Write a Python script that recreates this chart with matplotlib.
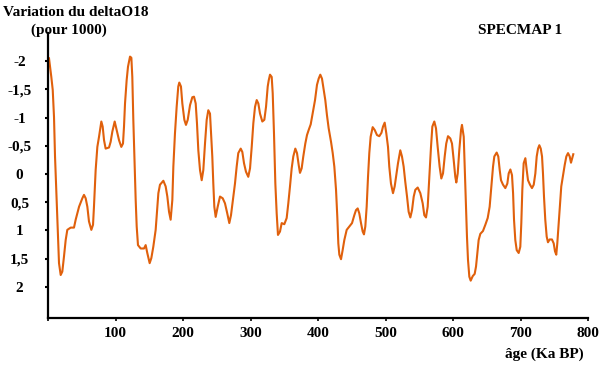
import matplotlib
matplotlib.use("Agg")
import matplotlib.pyplot as plt

# age in Ka BP
age = [1.5, 4.9, 7, 8.9, 10.4, 12.8, 14.8, 16.3, 18.8, 21.2, 23.7, 26.2, 28.6, 33.6, 38.5,
       41, 46, 50.9, 53.3, 55.8, 58.3, 60.7, 64.2, 66.7, 68.1, 70.6, 73.1, 75.6, 79, 81,
       83, 85.4, 90.4, 92.8, 95.3, 98.8, 101.7, 105.2, 108.6, 111.1, 112.6, 114.1, 116.5,
       118.5, 121.5, 123.5, 124.9, 126.4, 128.4, 129.9, 131.4, 133.3, 137.3, 142.2, 144.7,
       147.1, 150.6, 153.1, 156, 159.5, 163.5, 165.9, 170.9, 174.3, 176.8, 179.3, 181.7,
       184.2, 185.7, 188.1, 190.6, 193, 194.5, 197, 199, 202, 204.4, 207, 210.4, 213.8,
       216.3, 218.8, 220.7, 222.7, 225.2, 227.7, 230.1, 232.6, 235.1, 237.5, 240, 241.5,
       243.4, 244.9, 246.4, 248.4, 251.4, 254.8, 258.8, 262.2, 265.6, 268.6, 271.1, 274.5,
       277, 279.5, 281.9, 285.5, 287.9, 290.4, 293.3, 296.7, 299.3, 301.8, 304.2, 306.7,
       309.2, 311.6, 314.1, 317.5, 320.5, 323, 325.5, 327, 328.9, 331.4, 332.9, 334.8,
       336.8, 338.8, 340.7, 343.7, 346.2, 350.1, 353.6, 356, 358.5, 361, 363.4, 366.4,
       368.9, 371.4, 373.3, 375.8, 378.2, 381.2, 383.7, 386.2, 389.2, 392.1, 395.6, 398.5,
       401, 403.4, 405.9, 408.4, 410.8, 413.3, 415.8, 419.3, 421.8, 424.2, 426.7, 428.6,
       430.1, 431.6, 434.1, 436.5, 439, 442.5, 446.4, 450.4, 453.8, 456.3, 458.8, 461.2,
       463.7, 466.2, 468.1, 470.1, 472.1, 474.1, 476, 478, 481, 484, 487.4, 490.8, 494,
       496.3, 498.8, 501.2, 503.7, 505.6, 508.1, 511.1, 513.6, 516, 518.5, 521.9, 524.4,
       526.9, 529.3, 531.9, 534.3, 536.8, 539.3, 541.8, 544.2, 547.7, 551.6, 555.1, 557.5,
       560, 562.5, 564.9, 567.4, 569.4, 572.3, 574.8, 577.3, 580.2, 582.7, 585.2, 587.7,
       590, 592.6, 596, 598.5, 601, 603.4, 604.9, 607, 609.3, 611.9, 613.3, 615.9, 617.3,
       618.8, 620.7, 622.2, 624.2, 626.2, 629.2, 632.1, 634.1, 635.6, 638, 640.5, 644.4,
       647.9, 651.4, 654.3, 656.8, 659.3, 661.2, 664.7, 667.1, 669.2, 671.1, 674.1, 677.5,
       680.5, 682.5, 685, 687.4, 689, 690.4, 692.3, 694.4, 697.3, 699.7, 701.2, 702.7,
       704.7, 707.2, 709.2, 711.1, 714.1, 717, 719.6, 722, 724, 726, 727.9, 730, 731.9,
       733.3, 734.8, 736.7, 738.8, 740.7, 743.2, 746.6, 749.2, 751.1, 753, 754.5, 756.6,
       758.5, 760.4, 763, 765.5, 767.9, 770.4, 772.9, 774.8, 776.7, 778.2]

# delta O18 variation (per mil)
d18o = [-2.05, -1.72, -1.49, -1.01, -0.31, 0.46, 1.11, 1.58, 1.79, 1.73, 1.46, 1.17, 0.99, 0.95, 0.95,
        0.81, 0.58, 0.43, 0.37, 0.43, 0.58, 0.84, 0.99, 0.9, 0.58, -0.07, -0.48, -0.66, -0.93, -0.84,
        -0.6, -0.45, -0.47, -0.57, -0.75, -0.93, -0.78, -0.6, -0.48, -0.54, -0.84, -1.25, -1.66,
        -1.9, -2.08, -2.06, -1.72, -0.96, -0.13, 0.46, 0.93, 1.26, 1.32, 1.32, 1.26,
        1.4, 1.58, 1.49, 1.29, 0.99, 0.34, 0.19, 0.12, 0.22, 0.4, 0.67, 0.81,
        0.46, -0.13, -0.72, -1.19, -1.55, -1.62, -1.55, -1.25, -0.96, -0.87, -0.96, -1.22, -1.36,
        -1.37, -1.25, -0.9, -0.42, -0.07, 0.11, -0.07, -0.54, -0.96, -1.13, -1.07, -0.72,
        -0.31, 0.17, 0.58, 0.76, 0.58, 0.4, 0.43, 0.52, 0.7, 0.87, 0.73, 0.4,
        0.17, -0.13, -0.37, -0.45, -0.39, -0.19, -0.04, 0.05, -0.1, -0.48, -0.9, -1.19,
        -1.31, -1.25, -1.07, -0.93, -0.96, -1.19, -1.55, -1.66, -1.76, -1.72, -1.43, -0.72,
        0.17, 0.7, 1.08, 1.02, 0.87, 0.89, 0.78, 0.52, 0.22, -0.1, -0.31, -0.45,
        -0.37, -0.16, -0.02, -0.1, -0.31, -0.54, -0.69, -0.78, -0.88, -1.07, -1.31, -1.58,
        -1.69, -1.76, -1.69, -1.49, -1.31, -1.04, -0.81, -0.57, -0.37, -0.13, 0.28, 0.76,
        1.23, 1.43, 1.51, 1.35, 1.17, 0.99, 0.93, 0.87, 0.73, 0.64, 0.61, 0.7,
        0.87, 1.02, 1.07, 0.93, 0.58, 0.05, -0.37, -0.66, -0.83, -0.78, -0.69, -0.67, -0.73,
        -0.84, -0.91, -0.72, -0.48, -0.13, 0.17, 0.34, 0.22, 0.02, -0.19, -0.42, -0.31,
        -0.13, 0.14, 0.4, 0.67, 0.77, 0.64, 0.4, 0.28, 0.24, 0.34, 0.52, 0.73,
        0.77, 0.58, 0.05, -0.48, -0.84, -0.93, -0.81, -0.48, -0.13, 0.08, -0.01, -0.31,
        -0.54, -0.67, -0.63, -0.54, -0.25, 0.05, 0.15, -0.01, -0.42, -0.78, -0.87, -0.66, -0.13,
        0.46, 1.11, 1.52, 1.82, 1.89, 1.81, 1.77, 1.64, 1.46, 1.17, 1.06, 1.01,
        0.9, 0.78, 0.58, 0.22, -0.13, -0.31, -0.38, -0.31, -0.07, 0.11, 0.19, 0.25,
        0.17, -0.01, -0.08, 0.02, 0.34, 0.81, 1.17, 1.35, 1.4, 1.29, 0.87, 0.28,
        -0.19, -0.28, -0.07, 0.11, 0.19, 0.25, 0.19, -0.01, -0.31, -0.45, -0.51, -0.45, -0.31,
        -0.01, 0.4, 0.81, 1.11, 1.21, 1.16, 1.16, 1.23, 1.37, 1.43, 1.23, 0.87,
        0.52, 0.22, 0.02, -0.16, -0.31, -0.37, -0.31, -0.2, -0.28, -0.35]

y_ticks = [-2, -1.5, -1, -0.5, 0, 0.5, 1, 1.5, 2]
y_labels = ["-2", "-1,5", "-1", "-0,5", "0", "0,5", "1", "1,5", "2"]
x_ticks = [0, 100, 200, 300, 400, 500, 600, 700, 800]
x_labels = ["", "100", "200", "300", "400", "500", "600", "700", "800"]

plt.rcParams["font.family"] = ["Liberation Serif", "DejaVu Serif"]
plt.rcParams["font.weight"] = "bold"
plt.rcParams["font.size"] = 11

fig = plt.figure(figsize=(6, 3.74), dpi=100)
ax = fig.add_axes([0.08, 0.15, 0.90, 0.762])

ax.plot(age, d18o, color="#E0600C", linewidth=1.5)

ax.set_xlim(0, 800)
ax.set_ylim(2.55, -2.5)

for side in ["top", "right"]:
    ax.spines[side].set_visible(False)
for side in ["left", "bottom"]:
    ax.spines[side].set_linewidth(1.6)

ax.set_yticks(y_ticks)
ax.set_yticklabels(y_labels)
ax.set_xticks(x_ticks)
ax.set_xticklabels(x_labels)
ax.tick_params(axis="y", length=2.5, width=1.5, pad=18)
ax.tick_params(axis="x", length=2.5, width=1.2, pad=4)
for lab in ax.get_yticklabels():
    lab.set_horizontalalignment("center")

fig.text(0.005, 1 - 12 / 374, "Variation du deltaO18", ha="left", va="center")
fig.text(69 / 600, 1 - 30 / 374, "(pour 1000)", ha="center", va="center")
fig.text(520 / 600, 1 - 30 / 374, "SPECMAP 1", ha="center", va="center")
fig.text(544 / 600, 1 - 354 / 374, "âge (Ka BP)", ha="center", va="center")

fig.savefig("out.png", dpi=100)
